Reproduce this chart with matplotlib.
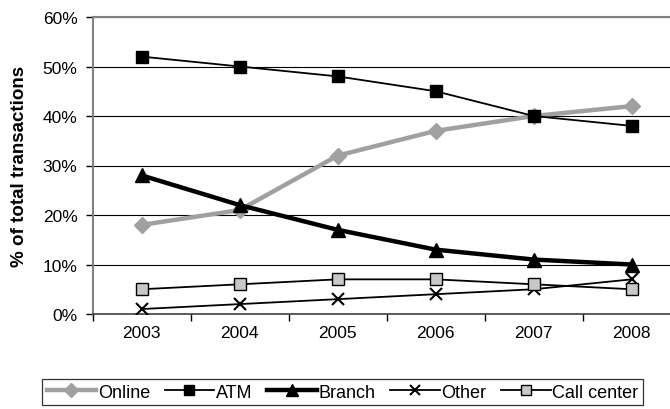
import matplotlib
matplotlib.use("Agg")
import matplotlib.pyplot as plt
from matplotlib.ticker import FixedLocator, PercentFormatter

plt.rcParams['font.family'] = ['Liberation Sans', 'DejaVu Sans']

years = ["2003", "2004", "2005", "2006", "2007", "2008"]
online = [18, 21, 32, 37, 40, 42]
atm = [52, 50, 48, 45, 40, 38]
branch = [28, 22, 17, 13, 11, 10]
other = [1, 2, 3, 4, 5, 7]
call_center = [5, 6, 7, 7, 6, 5]

fig = plt.figure(figsize=(6.7, 4.1), dpi=100)
ax = fig.add_axes([92.7 / 670, 1 - 315 / 410, 588 / 670, 297 / 410])

x = list(range(len(years)))

l_online, = ax.plot(x, online, color="#a0a0a0", lw=3.2, marker="D", ms=8.5,
                    mfc="#a0a0a0", mec="#a0a0a0", label="Online", zorder=3)
l_atm, = ax.plot(x, atm, color="black", lw=1.3, marker="s", ms=8.5,
                 mfc="black", mec="black", label="ATM", zorder=4)
l_branch, = ax.plot(x, branch, color="black", lw=3.2, marker="^", ms=10,
                    mfc="black", mec="black", label="Branch", zorder=4)
l_other, = ax.plot(x, other, color="black", lw=1.3, marker="x", ms=8.5,
                   mew=1.5, label="Other", zorder=4)
l_call, = ax.plot(x, call_center, color="black", lw=1.3, marker="s", ms=8.5,
                  mfc="#c8c8c8", mec="black", mew=1.0, label="Call center", zorder=4)

ax.set_xlim(-0.5, len(years) - 0.5)
ax.set_ylim(0, 60)
ax.yaxis.set_major_locator(FixedLocator(range(0, 61, 10)))
ax.yaxis.set_major_formatter(PercentFormatter(decimals=0))

ax.set_xticks(x)
ax.set_xticklabels(years)
ax.set_xticks([i + 0.5 for i in range(-1, len(years))], minor=True)
ax.tick_params(axis="x", which="major", length=0, pad=8, labelsize=12.5)
ax.tick_params(axis="x", which="minor", length=5, width=1, direction="out")
ax.tick_params(axis="y", length=5, width=1, direction="out", labelsize=12.5, pad=6)

ax.grid(axis="y", color="black", lw=0.8)
ax.set_axisbelow(True)
ax.spines["right"].set_visible(False)
ax.spines["top"].set_color("#808080")
ax.spines["top"].set_linewidth(1.5)
ax.spines["left"].set_color("#808080")
ax.spines["left"].set_linewidth(1.5)
ax.spines["bottom"].set_color("#404040")
ax.spines["bottom"].set_linewidth(1.2)

ax.set_ylabel("% of total transactions", fontsize=13.5, fontweight="bold")
ax.yaxis.set_label_coords((28 - 92.7) / 588, 0.5)

leg = fig.legend(handles=[l_online, l_atm, l_branch, l_other, l_call],
                 loc="upper left", bbox_to_anchor=(42 / 670, 1 - 380 / 410),
                 ncol=5, fontsize=13, frameon=True, fancybox=False,
                 handlelength=2.75, handletextpad=0.1, columnspacing=0.8,
                 borderpad=0.25, borderaxespad=0, markerscale=0.8)
leg.get_frame().set_edgecolor("black")
leg.get_frame().set_linewidth(0.9)

fig.savefig("out.png", dpi=100)
